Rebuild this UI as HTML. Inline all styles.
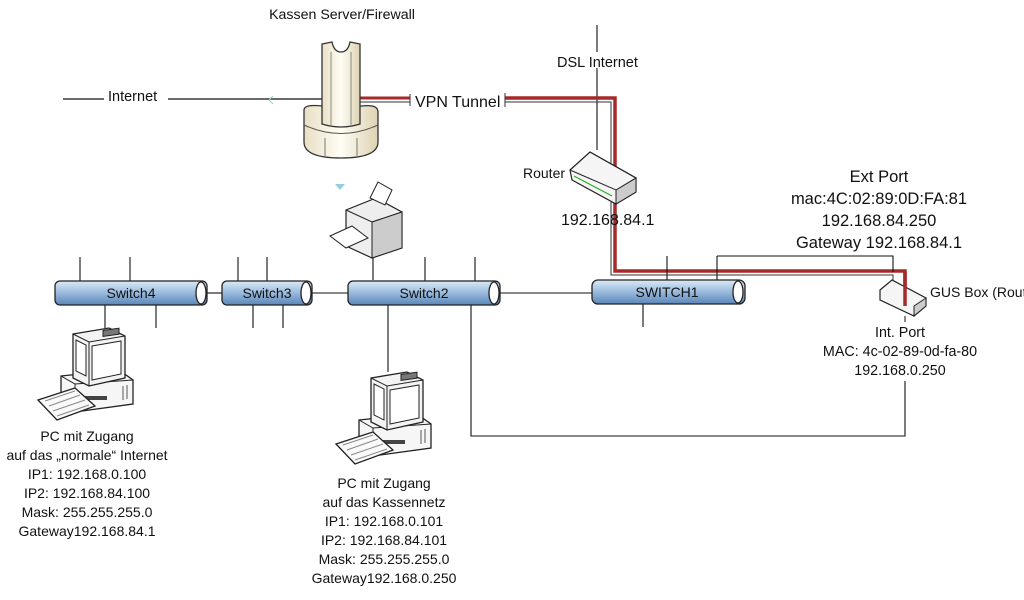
<!DOCTYPE html>
<html><head><meta charset="utf-8"><style>
html,body{margin:0;padding:0;background:#fff;width:1024px;height:600px;overflow:hidden}
svg{display:block}
text{font-family:"Liberation Sans",sans-serif;fill:#111}
</style></head><body>
<svg width="1024" height="600" viewBox="0 0 1024 600" xmlns="http://www.w3.org/2000/svg">
<defs>
<linearGradient id="sw" x1="0" y1="0" x2="0" y2="1">
<stop offset="0" stop-color="#dce9f6"/><stop offset="0.45" stop-color="#9fbfe0"/><stop offset="1" stop-color="#5a86b8"/>
</linearGradient>
<linearGradient id="fw" x1="0" y1="0" x2="1" y2="0">
<stop offset="0" stop-color="#e8dfc4"/><stop offset="0.5" stop-color="#fffdf4"/><stop offset="1" stop-color="#ddd2b2"/>
</linearGradient>
<g id="pc">
<path d="M26,50 L84,44 L98,54 L98,78 L40,86 L26,76 Z" fill="#f6f6f6" stroke="#222" stroke-width="1.3"/>
<path d="M26,50 L40,58 L98,54" fill="none" stroke="#222"/>
<line x1="40" y1="58" x2="40" y2="86" stroke="#222"/>
<rect x="50" y="70" width="22" height="4" fill="#444"/>
<line x1="88" y1="60" x2="88" y2="74" stroke="#555"/><line x1="92" y1="59" x2="92" y2="73" stroke="#555"/>
<path d="M38,8 L74,2 L90,10 L90,52 L54,60 L38,52 Z" fill="#f3f3f3" stroke="#222" stroke-width="1.3"/>
<path d="M38,8 L54,16 L90,10" fill="none" stroke="#222"/>
<line x1="54" y1="16" x2="54" y2="60" stroke="#222"/>
<path d="M41,14 L51,19 L51,50 L41,45 Z" fill="#fff" stroke="#222"/>
<path d="M57,20 L86,15 L86,48 L57,54 Z" fill="#fff" stroke="#222"/>
<rect x="68" y="4" width="16" height="6" fill="#777" stroke="#222" transform="skewY(-8) translate(0,10)"/>
<path d="M3,74 L40,62 L60,80 L22,94 Z" fill="#fafafa" stroke="#222" stroke-width="1.3"/>
<path d="M10,75 L40,65 M14,80 L45,69 M18,85 L50,74 M22,90 L54,79" stroke="#888" stroke-width="1"/>
</g>
</defs>

<line x1="63" y1="99" x2="322" y2="99" stroke="#111" stroke-width="1.2"/>
<rect x="104" y="88" width="64" height="14" fill="#fff"/>
<text x="108" y="101" font-size="14.5">Internet</text>
<path d="M273,96 L269,100 L273,104" fill="none" stroke="#9cc" stroke-width="1"/>
<path d="M360,98 L410,98" stroke="#a52a2a" stroke-width="3" fill="none"/>
<line x1="360" y1="102" x2="410" y2="102" stroke="#333" stroke-width="1"/>
<line x1="410" y1="94" x2="410" y2="106" stroke="#333" stroke-width="1"/>
<text x="415" y="107" font-size="16">VPN Tunnel</text>
<line x1="597" y1="25" x2="597" y2="150" stroke="#111" stroke-width="1.1"/>
<rect x="556" y="52" width="90" height="16" fill="#fff"/>
<text x="557" y="67" font-size="14.5">DSL Internet</text>
<path d="M505,102 L611,102 L611,275 L893,275 L893,300" fill="none" stroke="#333" stroke-width="1"/>
<path d="M505,98 L615,98 L615,271 L905,271 L905,302" fill="none" stroke="#a52a2a" stroke-width="3.5"/>
<line x1="505" y1="93" x2="505" y2="107" stroke="#333"/>
<path d="M717,256 L893,256 L893,272" fill="none" stroke="#111" stroke-width="1.1"/>

<text x="342" y="19" font-size="14.2" text-anchor="middle">Kassen Server/Firewall</text>
<path d="M304,110 Q304,104 322,106 L362,106 Q378,104 378,112 L378,142 Q378,158 341,158 Q304,158 304,142 Z" fill="url(#fw)" stroke="#333" stroke-width="1.3"/>
<path d="M304,125 Q341,142 378,125" fill="none" stroke="#555"/>
<line x1="325" y1="138" x2="325" y2="156" stroke="#777"/><line x1="357" y1="138" x2="357" y2="156" stroke="#777"/>
<path d="M322,44 L332,42 Q334,52 341,52 Q348,52 350,42 L360,44 L360,124 Q341,130 322,124 Z" fill="url(#fw)" stroke="#333" stroke-width="1.3"/>
<line x1="331" y1="52" x2="331" y2="126" stroke="#888"/><line x1="351" y1="52" x2="351" y2="126" stroke="#888"/>
<path d="M335,184 L345,184 L340,190 Z" fill="#9cd"/>

<path d="M346,210 L376,198 L402,212 L402,248 L372,258 L346,246 Z" fill="#eee" stroke="#222" stroke-width="1.2"/>
<path d="M346,210 L372,222 L402,212" fill="none" stroke="#222"/>
<path d="M372,222 L402,212 L402,248 L372,258 Z" fill="#ccc" stroke="#222"/>
<path d="M378,182 L392,190 L385,205 L370,198 Z" fill="#fff" stroke="#222"/>
<path d="M330,236 L352,226 L368,238 L346,248 Z" fill="#fff" stroke="#222"/>
<line x1="373" y1="258" x2="373" y2="280" stroke="#111" stroke-width="1.1"/>

<path d="M570,170 L590,152 L636,178 L636,192 L616,204 L572,180 Z" fill="#f5f5f5" stroke="#222" stroke-width="1.2"/>
<path d="M590,152 L636,178 L616,190 L570,170" fill="none" stroke="#222"/>
<path d="M616,190 L636,178 L636,192 L616,204 Z" fill="#ccc" stroke="#222"/>
<path d="M574,176 L612,196" stroke="#2a2" stroke-width="1"/>
<text x="523" y="178" font-size="14">Router</text>
<text x="561" y="225" font-size="16">192.168.84.1</text>

<g font-size="16.5" text-anchor="middle">
<text x="879" y="182">Ext Port</text>
<text x="879" y="204">mac:4C:02:89:0D:FA:81</text>
<text x="879" y="226">192.168.84.250</text>
<text x="879" y="248">Gateway 192.168.84.1</text>
</g>

<path d="M880,290 L892,280 L926,298 L926,306 L914,316 L880,300 Z" fill="#f5f5f5" stroke="#222" stroke-width="1.2"/>
<path d="M914,306 L926,298 L926,306 L914,316 Z" fill="#ccc" stroke="#222"/>
<line x1="905" y1="272" x2="905" y2="306" stroke="#a52a2a" stroke-width="3.5"/>
<text x="930" y="297" font-size="14">GUS Box (Rout</text>
<g font-size="14.3" text-anchor="middle">
<text x="900" y="337">Int. Port</text>
<text x="900" y="356">MAC: 4c-02-89-0d-fa-80</text>
<text x="900" y="375">192.168.0.250</text>
</g>
<line x1="905" y1="316" x2="905" y2="322" stroke="#111"/>
<path d="M905,381 L905,436 L471,436 L471,304" fill="none" stroke="#111" stroke-width="1.1"/>

<g stroke="#111" stroke-width="1.1">
<line x1="80" y1="257" x2="80" y2="281"/><line x1="130" y1="257" x2="130" y2="281"/>
<line x1="105" y1="304" x2="105" y2="328"/><line x1="156" y1="304" x2="156" y2="328"/>
<line x1="238" y1="257" x2="238" y2="281"/><line x1="267" y1="257" x2="267" y2="281"/>
<line x1="253" y1="304" x2="253" y2="328"/><line x1="283" y1="304" x2="283" y2="328"/>
<line x1="425" y1="257" x2="425" y2="281"/><line x1="475" y1="257" x2="475" y2="281"/>
<line x1="388" y1="304" x2="388" y2="372"/>
<line x1="667" y1="256" x2="667" y2="281"/><line x1="717" y1="256" x2="717" y2="281"/>
<line x1="643" y1="304" x2="643" y2="327"/>
<line x1="207" y1="293" x2="222" y2="293"/><line x1="312" y1="293" x2="348" y2="293"/>
<line x1="500" y1="293" x2="592" y2="293"/>
</g>

<g stroke="#222" stroke-width="1.3">
<rect x="55" y="281" width="152" height="24" rx="5" fill="url(#sw)"/><ellipse cx="201" cy="293" rx="5" ry="11" fill="#fff"/>
<rect x="222" y="281" width="90" height="24" rx="5" fill="url(#sw)"/><ellipse cx="306" cy="293" rx="5" ry="11" fill="#fff"/>
<rect x="348" y="281" width="152" height="24" rx="5" fill="url(#sw)"/><ellipse cx="494" cy="293" rx="5" ry="11" fill="#fff"/>
<rect x="592" y="280" width="153" height="24" rx="6" fill="url(#sw)"/><ellipse cx="738" cy="292" rx="5" ry="11" fill="#fff"/>
</g>
<g font-size="14" text-anchor="middle">
<text x="131" y="298">Switch4</text>
<text x="267" y="298">Switch3</text>
<text x="424" y="298">Switch2</text>
<text x="667" y="297">SWITCH1</text>
</g>

<use href="#pc" x="35" y="326"/>
<use href="#pc" x="333" y="370"/>

<g font-size="14" text-anchor="middle">
<text x="87" y="441">PC mit Zugang</text>
<text x="87" y="460">auf das „normale“ Internet</text>
<text x="87" y="479">IP1: 192.168.0.100</text>
<text x="87" y="498">IP2: 192.168.84.100</text>
<text x="87" y="517">Mask: 255.255.255.0</text>
<text x="87" y="536">Gateway192.168.84.1</text>
<text x="384" y="488">PC mit Zugang</text>
<text x="384" y="507">auf das Kassennetz</text>
<text x="384" y="526">IP1: 192.168.0.101</text>
<text x="384" y="545">IP2: 192.168.84.101</text>
<text x="384" y="564">Mask: 255.255.255.0</text>
<text x="384" y="583">Gateway192.168.0.250</text>
</g>
</svg>
</body></html>
